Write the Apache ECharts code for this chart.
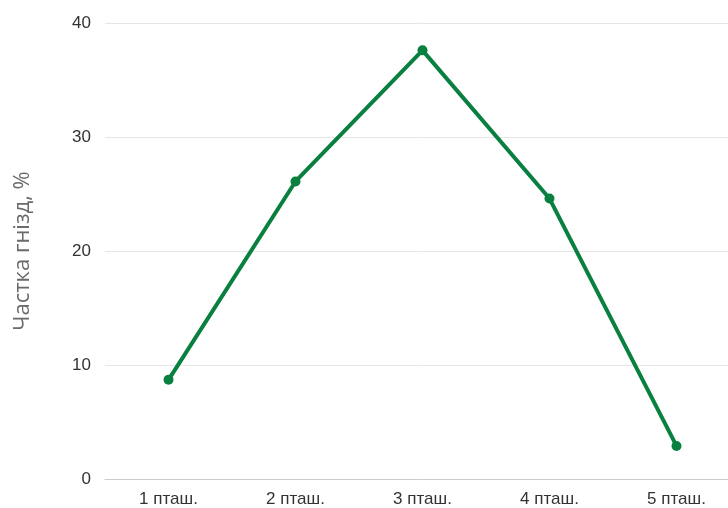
<!DOCTYPE html>
<html>
<head>
<meta charset="utf-8">
<script src="https://cdn.jsdelivr.net/npm/echarts@6/dist/echarts.min.js"></script>
<style>
  html, body { margin: 0; padding: 0; background: #fff; overflow: hidden; }
  #chart { width: 740px; height: 508px; }
</style>
</head>
<body>
<div id="chart"></div>
<script>
const categories = ['1 пташ.', '2 пташ.', '3 пташ.', '4 пташ.', '5 пташ.'];
const shares = [8.7, 26.1, 37.6, 24.6, 2.9];
const yTicks = { min: 0, max: 40, interval: 10 };

// the plot runs a little past the right edge of the picture, so the div is wider than the window
const myChart = echarts.init(document.getElementById('chart'));

const option = {
    backgroundColor: '#fff',
    animation: false,
    grid: {
        left: 105,
        top: 23,
        bottom: 29,
        right: 0,
        containLabel: false,
    },
    xAxis: {
        type: 'category',
        data: categories,
        boundaryGap: true,
        axisLine: { show: true, lineStyle: { color: '#cccccc', width: 1 } },
        axisTick: { show: false },
        axisLabel: {
            color: '#333333',
            fontSize: 17,
            fontFamily: 'Liberation Sans, Arial, sans-serif',
            margin: 12,
        },
    },
    yAxis: {
        type: 'value',
        min: yTicks.min,
        max: yTicks.max,
        interval: yTicks.interval,
        name: 'Частка гнізд, %',
        nameLocation: 'middle',
        nameGap: 71,
        nameTextStyle: {
            color: '#6a6a6a',
            fontSize: 22,
            fontFamily: 'Open Sans, sans-serif',
        },
        axisLine: { show: false },
        axisTick: { show: false },
        axisLabel: {
            color: '#333333',
            fontSize: 17,
            fontFamily: 'Liberation Sans, Arial, sans-serif',
            margin: 14,
        },
        splitLine: { show: true, lineStyle: { color: '#e6e6e6', width: 1 } },
    },
    series: [
        {
            type: 'line',
            data: shares,
            symbol: 'circle',
            symbolSize: 10,
            showSymbol: true,
            lineStyle: { color: '#0a8040', width: 4 },
            itemStyle: { color: '#0a8040' },
        },
    ],
};

myChart.setOption(option);
window.addEventListener('resize', function () {
    myChart.resize();
});
</script>
</body>
</html>
